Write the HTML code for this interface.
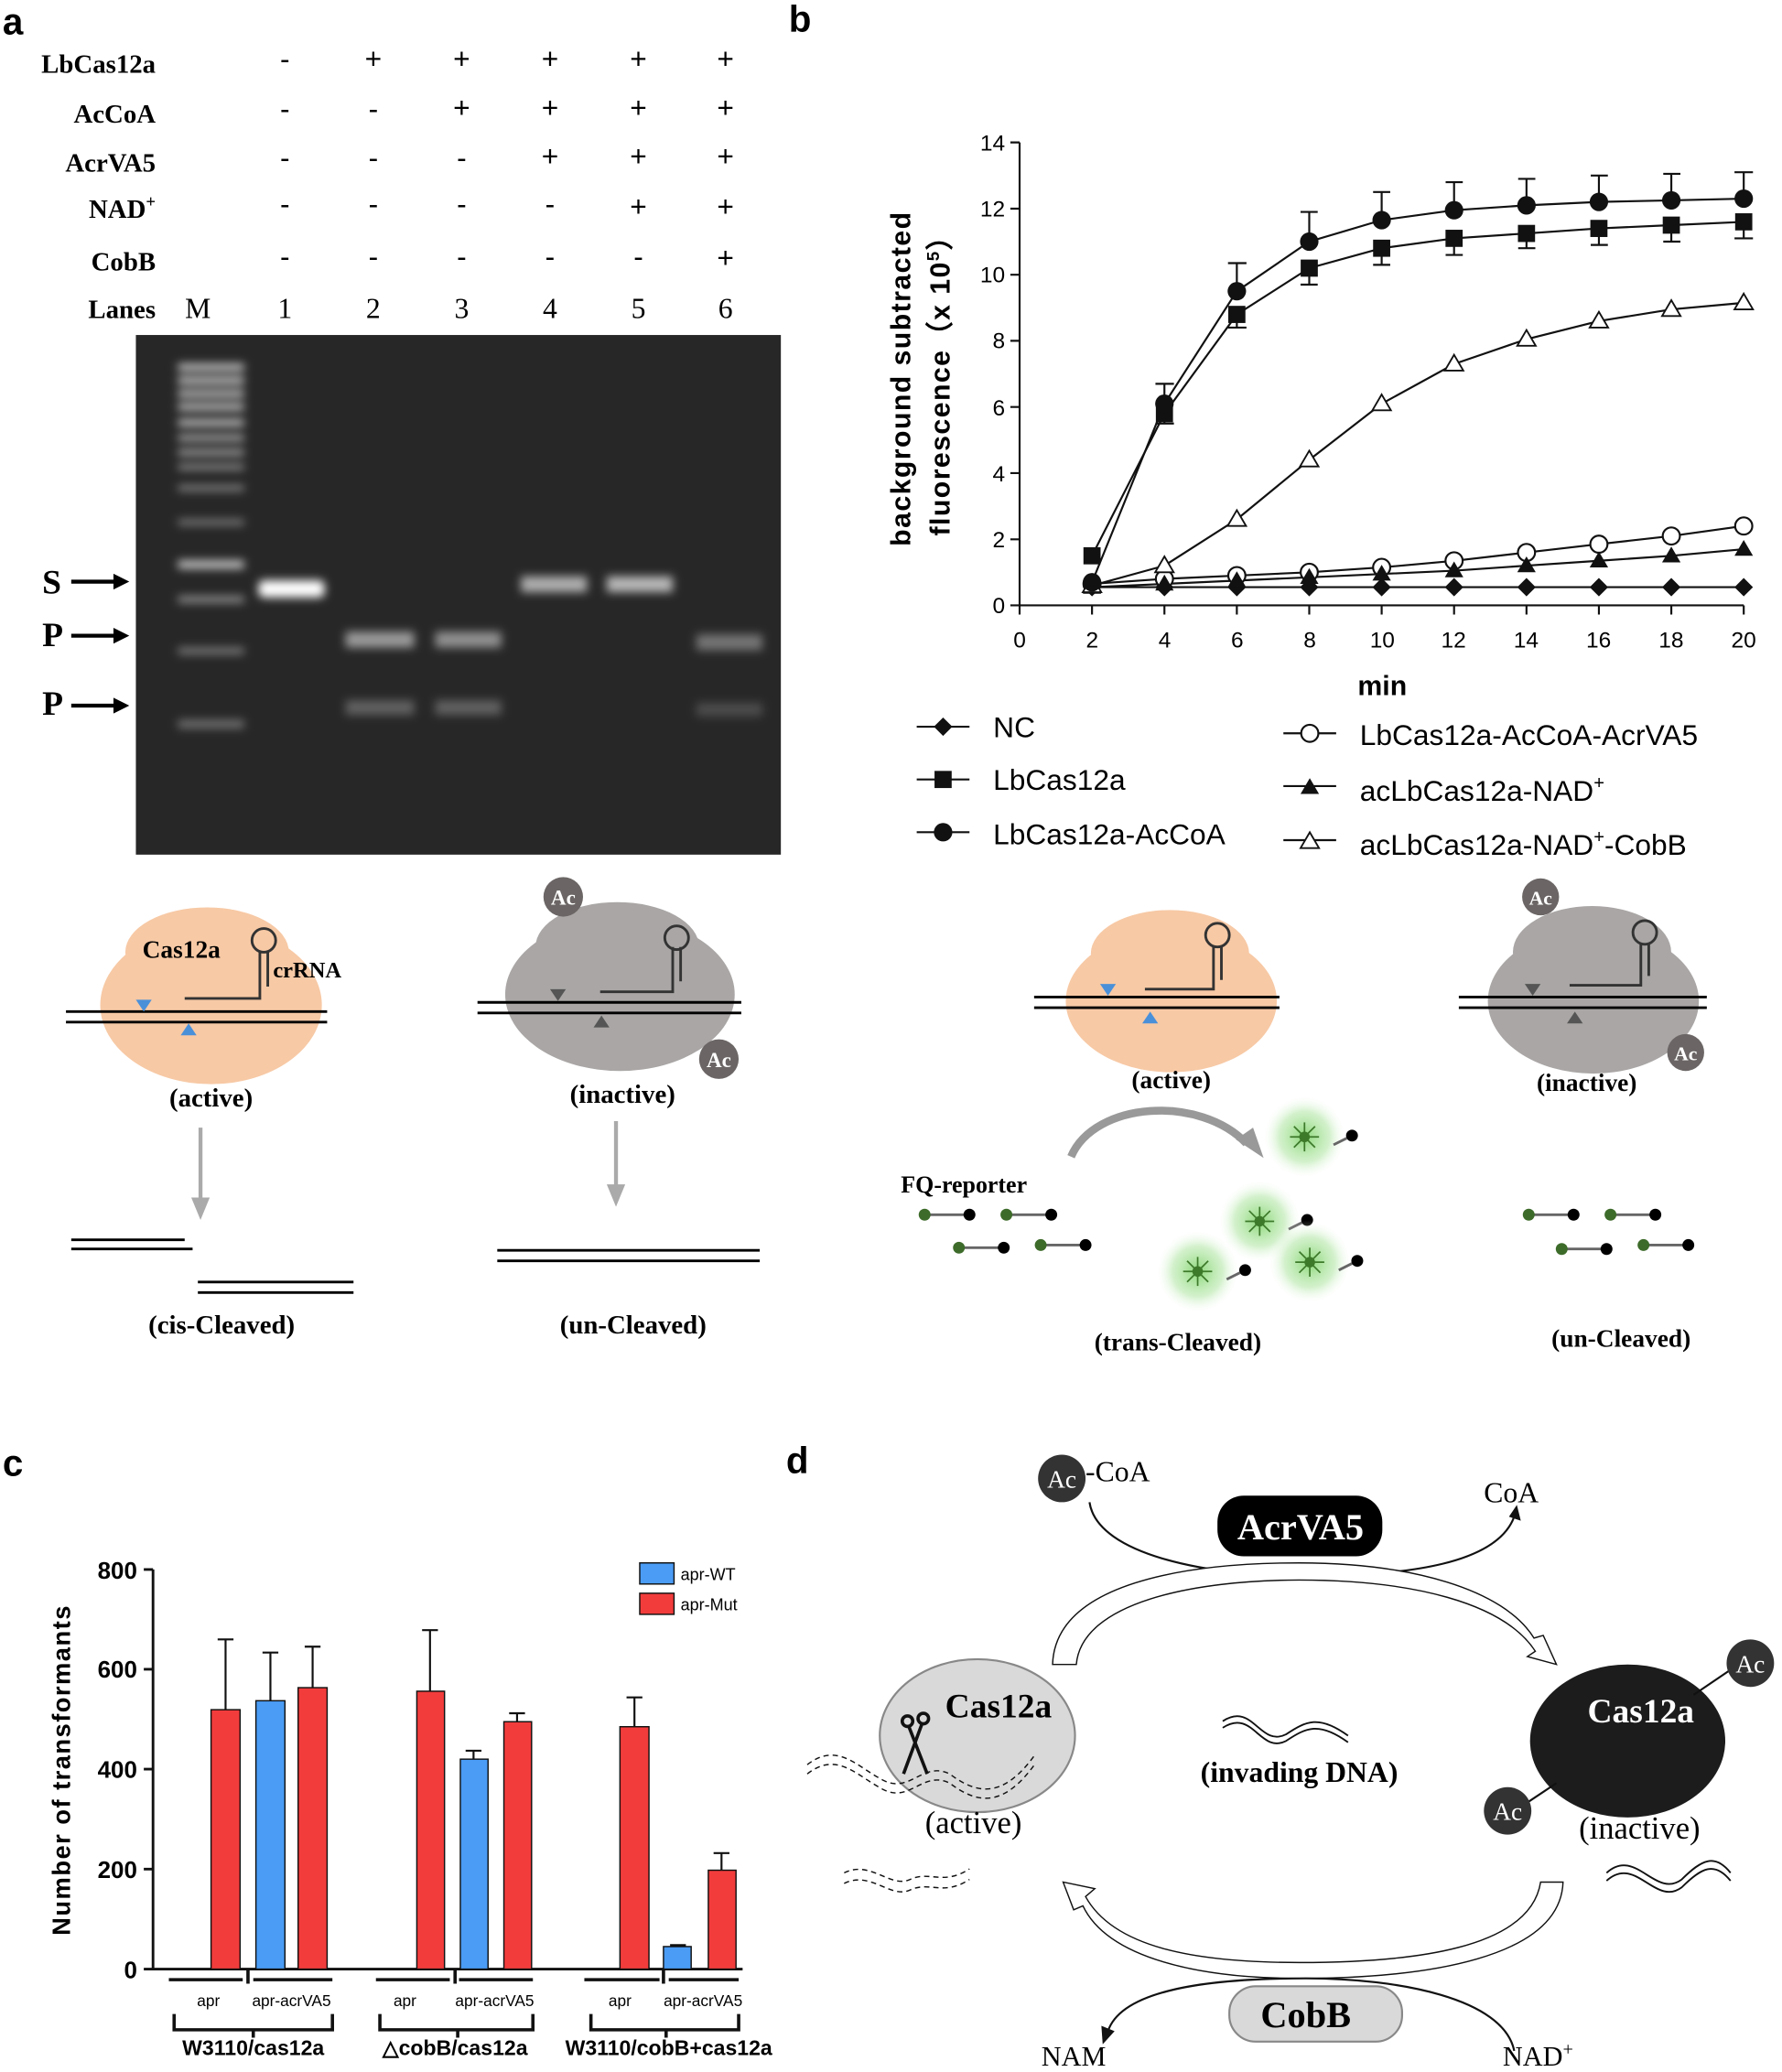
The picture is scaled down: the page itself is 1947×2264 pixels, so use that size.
<!DOCTYPE html>
<html><head><meta charset="utf-8"><style>
html,body{margin:0;padding:0;background:#fff}
svg{display:block}
.s{font-family:"Liberation Serif",serif}
.a{font-family:"Liberation Sans",sans-serif}
</style></head><body>
<svg width="1947" height="2264" viewBox="0 0 1351 1571" xmlns="http://www.w3.org/2000/svg">
<defs>
<radialGradient id="glow"><stop offset="0" stop-color="#7fd36a" stop-opacity="0.9"/><stop offset="0.6" stop-color="#a8e39a" stop-opacity="0.5"/><stop offset="1" stop-color="#fff" stop-opacity="0"/></radialGradient>
<filter id="bl"><feGaussianBlur stdDeviation="3.5"/></filter>
<g id="dm"><path d="M0,-7 L7,0 L0,7 L-7,0Z" fill="#111"/></g>
<g id="sq"><rect x="-6.5" y="-6.5" width="13" height="13" fill="#111"/></g>
<g id="ci"><circle r="7" fill="#111"/></g>
<g id="oc"><circle r="6.5" fill="#fff" stroke="#111" stroke-width="1.5"/></g>
<g id="tr"><path d="M0,-7 L7,5 L-7,5Z" fill="#111"/></g>
<g id="ot"><path d="M0,-7 L7,5 L-7,5Z" fill="#fff" stroke="#111" stroke-width="1.3"/></g>
<g id="rep"><line x1="0" y1="0" x2="32" y2="0" stroke="#666" stroke-width="2"/><circle r="4.5" fill="#3d6b2a"/><circle cx="34" r="4.5" fill="#000"/></g>
<g id="star"><circle r="32" fill="url(#glow)"/><circle r="4" fill="#3d7a2a"/><g stroke="#3d7a2a" stroke-width="1.2"><line x1="-11" y1="0" x2="11" y2="0"/><line x1="0" y1="-11" x2="0" y2="11"/><line x1="-8" y1="-8" x2="8" y2="8"/><line x1="-8" y1="8" x2="8" y2="-8"/></g><line x1="22" y1="6" x2="32" y2="1" stroke="#666" stroke-width="2"/><circle cx="36" cy="-1" r="4.5" fill="#000"/></g>
</defs>

<!-- ===== Panel a ===== -->
<text x="2" y="26" class="a" font-size="28" font-weight="bold">a</text>
<g class="s" font-size="20" font-weight="bold" text-anchor="end">
<text x="118" y="55">LbCas12a</text><text x="118" y="93">AcCoA</text><text x="118" y="130">AcrVA5</text>
<text x="118" y="165">NAD<tspan font-size="13" dy="-8">+</tspan></text><text x="118" y="205">CobB</text><text x="118" y="241">Lanes</text>
</g>
<g class="s" font-size="22" text-anchor="middle">
<text x="150" y="241">M</text><text x="216" y="241">1</text><text x="283" y="241">2</text><text x="350" y="241">3</text><text x="417" y="241">4</text><text x="484" y="241">5</text><text x="550" y="241">6</text>
</g>
<g class="a" font-size="22" text-anchor="middle">
<text x="216" y="52">-</text><text x="283" y="52">+</text><text x="350" y="52">+</text><text x="417" y="52">+</text><text x="484" y="52">+</text><text x="550" y="52">+</text>
<text x="216" y="90">-</text><text x="283" y="90">-</text><text x="350" y="89">+</text><text x="417" y="89">+</text><text x="484" y="89">+</text><text x="550" y="89">+</text>
<text x="216" y="127">-</text><text x="283" y="127">-</text><text x="350" y="127">-</text><text x="417" y="126">+</text><text x="484" y="126">+</text><text x="550" y="126">+</text>
<text x="216" y="162">-</text><text x="283" y="162">-</text><text x="350" y="162">-</text><text x="417" y="162">-</text><text x="484" y="164">+</text><text x="550" y="164">+</text>
<text x="216" y="202">-</text><text x="283" y="202">-</text><text x="350" y="202">-</text><text x="417" y="202">-</text><text x="484" y="202">-</text><text x="550" y="203">+</text>
</g>
<rect x="103" y="254" width="489" height="394" fill="#272727"/>
<g filter="url(#bl)" fill="#e8e8e8">
<rect x="135" y="276" width="50" height="5" opacity="0.9"/><rect x="135" y="286" width="50" height="5" opacity="0.9"/><rect x="135" y="296" width="50" height="5" opacity="0.85"/><rect x="135" y="306" width="50" height="5" opacity="0.85"/><rect x="135" y="318" width="50" height="5" opacity="0.85"/><rect x="135" y="330" width="50" height="4" opacity="0.8"/><rect x="135" y="341" width="50" height="4" opacity="0.75"/><rect x="135" y="352" width="50" height="4" opacity="0.6"/><rect x="135" y="368" width="50" height="4" opacity="0.55"/><rect x="135" y="394" width="50" height="4" opacity="0.5"/><rect x="135" y="425" width="50" height="6" opacity="0.85"/><rect x="135" y="452" width="50" height="5" opacity="0.55"/><rect x="135" y="491" width="50" height="5" opacity="0.45"/><rect x="135" y="546" width="50" height="6" opacity="0.4"/>
<rect x="196" y="440" width="50" height="13" rx="4" fill="#fff"/>
<rect x="262" y="479" width="52" height="12" opacity="0.6"/><rect x="330" y="479" width="50" height="12" opacity="0.55"/>
<rect x="262" y="531" width="52" height="11" opacity="0.3"/><rect x="330" y="531" width="50" height="11" opacity="0.3"/>
<rect x="395" y="437" width="50" height="12" opacity="0.7"/><rect x="460" y="437" width="50" height="12" opacity="0.75"/>
<rect x="528" y="481" width="50" height="12" opacity="0.4"/><rect x="528" y="533" width="50" height="10" opacity="0.2"/>
</g>
<g class="s" font-size="26" font-weight="bold"><text x="32" y="450">S</text><text x="32" y="490">P</text><text x="32" y="542">P</text></g>
<g stroke="#000" stroke-width="3"><line x1="54" y1="441" x2="88" y2="441"/><line x1="54" y1="482" x2="88" y2="482"/><line x1="54" y1="535" x2="88" y2="535"/></g>
<g fill="#000"><path d="M98,441 L86,435 L86,447Z"/><path d="M98,482 L86,476 L86,488Z"/><path d="M98,535 L86,529 L86,541Z"/></g>

<!-- a diagrams -->
<ellipse cx="160" cy="762" rx="84" ry="60" fill="#f7c9a5"/><ellipse cx="157" cy="722" rx="62" ry="34" fill="#f7c9a5"/>
<text x="108" y="726" class="s" font-size="19" font-weight="bold">Cas12a</text>
<path d="M140,757 L197,757 L197,722 M203,722 L203,748" stroke="#333" stroke-width="2" fill="none"/><circle cx="200" cy="713" r="9" fill="none" stroke="#333" stroke-width="2"/>
<text x="207" y="741" class="s" font-size="17" font-weight="bold">crRNA</text>
<line x1="50" y1="767" x2="248" y2="767" stroke="#000" stroke-width="2"/><line x1="50" y1="775" x2="248" y2="775" stroke="#000" stroke-width="2"/>
<path d="M103,758 L115,758 L109,767Z" fill="#4a90d9"/><path d="M137,785 L149,785 L143,776Z" fill="#4a90d9"/>
<text x="160" y="839" class="s" font-size="20" font-weight="bold" text-anchor="middle">(active)</text>
<line x1="152" y1="855" x2="152" y2="910" stroke="#aaa" stroke-width="3"/><path d="M145,908 L159,908 L152,925Z" fill="#aaa"/>
<line x1="54" y1="940" x2="140" y2="940" stroke="#000" stroke-width="2"/><line x1="54" y1="947" x2="146" y2="947" stroke="#000" stroke-width="2"/>
<line x1="150" y1="972" x2="268" y2="972" stroke="#000" stroke-width="2"/><line x1="150" y1="980" x2="268" y2="980" stroke="#000" stroke-width="2"/>
<text x="168" y="1011" class="s" font-size="20" font-weight="bold" text-anchor="middle">(cis-Cleaved)</text>

<ellipse cx="470" cy="754" rx="87" ry="58" fill="#a9a6a5"/><ellipse cx="468" cy="718" rx="62" ry="34" fill="#a9a6a5"/>
<circle cx="427" cy="680" r="15" fill="#6b6665"/><text x="427" y="686" class="s" font-size="16" font-weight="bold" fill="#fff" text-anchor="middle">Ac</text>
<circle cx="545" cy="803" r="15" fill="#6b6665"/><text x="545" y="809" class="s" font-size="16" font-weight="bold" fill="#fff" text-anchor="middle">Ac</text>
<path d="M455,752 L510,752 L510,718 M516,718 L516,744" stroke="#333" stroke-width="2" fill="none"/><circle cx="513" cy="711" r="9" fill="none" stroke="#333" stroke-width="2"/>
<line x1="362" y1="760" x2="562" y2="760" stroke="#000" stroke-width="2"/><line x1="362" y1="768" x2="562" y2="768" stroke="#000" stroke-width="2"/>
<path d="M417,750 L429,750 L423,759Z" fill="#555"/><path d="M450,779 L462,779 L456,770Z" fill="#555"/>
<text x="472" y="836" class="s" font-size="20" font-weight="bold" text-anchor="middle">(inactive)</text>
<line x1="467" y1="850" x2="467" y2="900" stroke="#aaa" stroke-width="3"/><path d="M460,898 L474,898 L467,915Z" fill="#aaa"/>
<line x1="377" y1="948" x2="576" y2="948" stroke="#000" stroke-width="2"/><line x1="377" y1="956" x2="576" y2="956" stroke="#000" stroke-width="2"/>
<text x="480" y="1011" class="s" font-size="20" font-weight="bold" text-anchor="middle">(un-Cleaved)</text>

<!-- ===== Panel b ===== -->
<text x="598" y="24" class="a" font-size="28" font-weight="bold">b</text>
<g stroke="#111" stroke-width="1.5" fill="none">
<line x1="773" y1="108" x2="773" y2="459"/><line x1="773" y1="459" x2="1322" y2="459"/>
<path d="M766,459H773M766,408.9H773M766,358.7H773M766,308.6H773M766,258.4H773M766,208.3H773M766,158.2H773M766,108H773"/>
<path d="M773,459V466M827.9,459V466M882.8,459V466M937.7,459V466M992.6,459V466M1047.5,459V466M1102.4,459V466M1157.3,459V466M1212.2,459V466M1267.1,459V466M1322,459V466"/>
</g>
<g class="a" font-size="17" text-anchor="end">
<text x="762" y="465">0</text><text x="762" y="415">2</text><text x="762" y="365">4</text><text x="762" y="315">6</text><text x="762" y="264">8</text><text x="762" y="214">10</text><text x="762" y="164">12</text><text x="762" y="114">14</text>
</g>
<g class="a" font-size="17" text-anchor="middle">
<text x="773" y="491">0</text><text x="828" y="491">2</text><text x="883" y="491">4</text><text x="938" y="491">6</text><text x="993" y="491">8</text><text x="1048" y="491">10</text><text x="1102" y="491">12</text><text x="1157" y="491">14</text><text x="1212" y="491">16</text><text x="1267" y="491">18</text><text x="1322" y="491">20</text>
</g>
<text x="1048" y="527" class="a" font-size="21" font-weight="bold" text-anchor="middle">min</text>
<g class="a" font-size="21" font-weight="bold" text-anchor="middle" letter-spacing="1">
<text transform="translate(690,287) rotate(-90)">background subtracted</text>
<text transform="translate(720,287) rotate(-90)">fluorescence（x 10<tspan font-size="13" dy="-8">5</tspan><tspan dy="8">）</tspan></text>
</g>
<g stroke="#111" stroke-width="1.5" fill="none">
<path d="M882.8,306V291M876,291H890M937.7,221V199.5M931,199.5H945M992.6,183V160.7M986,160.7H999M1047.5,167V145.6M1041,145.6H1054M1102.4,159V138.1M1096,138.1H1109M1157.3,156V135.6M1151,135.6H1164M1212.2,153V133.1M1206,133.1H1219M1267.1,152V131.8M1261,131.8H1274M1322,151V130.6M1315,130.6H1329"/>
<path d="M882.8,314V321.1M876,321.1H890M937.7,238V248.4M931,248.4H945M992.6,203V215.8M986,215.8H999M1047.5,188V200.8M1041,200.8H1054M1102.4,181V193.3M1096,193.3H1109M1157.3,177V188.2M1151,188.2H1164M1212.2,173V185.7M1206,185.7H1219M1267.1,171V183.2M1261,183.2H1274M1322,168V180.7M1315,180.7H1329"/>
</g>
<g stroke="#111" stroke-width="1.5" fill="none">
<polyline points="827.9,445.2 1322,445.2"/>
<polyline points="827.9,421.4 882.8,313.6 937.7,238.4 992.6,203.3 1047.5,188.2 1102.4,180.7 1157.3,177 1212.2,173.2 1267.1,170.7 1322,168.2"/>
<polyline points="827.9,441.5 882.8,306.1 937.7,220.8 992.6,183.2 1047.5,166.9 1102.4,159.4 1157.3,155.7 1212.2,153.1 1267.1,151.9 1322,150.6"/>
<polyline points="827.9,442.7 882.8,438.9 937.7,436.4 992.6,433.9 1047.5,430.2 1102.4,425.2 1157.3,418.9 1212.2,412.6 1267.1,406.4 1322,398.8"/>
<polyline points="827.9,445.2 882.8,442.7 937.7,440.2 992.6,437.7 1047.5,435.2 1102.4,432.7 1157.3,428.9 1212.2,425.2 1267.1,421.4 1322,416.4"/>
<polyline points="827.9,444 882.8,428.9 937.7,393.8 992.6,348.7 1047.5,306.1 1102.4,276 1157.3,257.2 1212.2,243.4 1267.1,234.6 1322,229.6"/>
</g>
<use href="#dm" x="827.9" y="445.2"/><use href="#dm" x="882.8" y="445.2"/><use href="#dm" x="937.7" y="445.2"/><use href="#dm" x="992.6" y="445.2"/><use href="#dm" x="1047.5" y="445.2"/><use href="#dm" x="1102.4" y="445.2"/><use href="#dm" x="1157.3" y="445.2"/><use href="#dm" x="1212.2" y="445.2"/><use href="#dm" x="1267.1" y="445.2"/><use href="#dm" x="1322" y="445.2"/>
<use href="#oc" x="827.9" y="442.7"/><use href="#oc" x="882.8" y="438.9"/><use href="#oc" x="937.7" y="436.4"/><use href="#oc" x="992.6" y="433.9"/><use href="#oc" x="1047.5" y="430.2"/><use href="#oc" x="1102.4" y="425.2"/><use href="#oc" x="1157.3" y="418.9"/><use href="#oc" x="1212.2" y="412.6"/><use href="#oc" x="1267.1" y="406.4"/><use href="#oc" x="1322" y="398.8"/>
<use href="#tr" x="827.9" y="445.2"/><use href="#tr" x="882.8" y="442.7"/><use href="#tr" x="937.7" y="440.2"/><use href="#tr" x="992.6" y="437.7"/><use href="#tr" x="1047.5" y="435.2"/><use href="#tr" x="1102.4" y="432.7"/><use href="#tr" x="1157.3" y="428.9"/><use href="#tr" x="1212.2" y="425.2"/><use href="#tr" x="1267.1" y="421.4"/><use href="#tr" x="1322" y="416.4"/>
<use href="#ot" x="827.9" y="444"/><use href="#ot" x="882.8" y="428.9"/><use href="#ot" x="937.7" y="393.8"/><use href="#ot" x="992.6" y="348.7"/><use href="#ot" x="1047.5" y="306.1"/><use href="#ot" x="1102.4" y="276"/><use href="#ot" x="1157.3" y="257.2"/><use href="#ot" x="1212.2" y="243.4"/><use href="#ot" x="1267.1" y="234.6"/><use href="#ot" x="1322" y="229.6"/>
<use href="#sq" x="827.9" y="421.4"/><use href="#sq" x="882.8" y="313.6"/><use href="#sq" x="937.7" y="238.4"/><use href="#sq" x="992.6" y="203.3"/><use href="#sq" x="1047.5" y="188.2"/><use href="#sq" x="1102.4" y="180.7"/><use href="#sq" x="1157.3" y="177"/><use href="#sq" x="1212.2" y="173.2"/><use href="#sq" x="1267.1" y="170.7"/><use href="#sq" x="1322" y="168.2"/>
<use href="#ci" x="827.9" y="441.5"/><use href="#ci" x="882.8" y="306.1"/><use href="#ci" x="937.7" y="220.8"/><use href="#ci" x="992.6" y="183.2"/><use href="#ci" x="1047.5" y="166.9"/><use href="#ci" x="1102.4" y="159.4"/><use href="#ci" x="1157.3" y="155.7"/><use href="#ci" x="1212.2" y="153.1"/><use href="#ci" x="1267.1" y="151.9"/><use href="#ci" x="1322" y="150.6"/>
<g stroke="#111" stroke-width="1.5"><line x1="695" y1="551" x2="735" y2="551"/><line x1="695" y1="591" x2="735" y2="591"/><line x1="695" y1="631" x2="735" y2="631"/><line x1="973" y1="556" x2="1013" y2="556"/><line x1="973" y1="596" x2="1013" y2="596"/><line x1="973" y1="637" x2="1013" y2="637"/></g>
<use href="#dm" x="715" y="551"/><use href="#sq" x="715" y="591"/><use href="#ci" x="715" y="631"/><use href="#oc" x="993" y="556"/><use href="#tr" x="993" y="597"/><use href="#ot" x="993" y="638"/>
<g class="a" font-size="22">
<text x="753" y="559">NC</text><text x="753" y="599">LbCas12a</text><text x="753" y="640">LbCas12a-AcCoA</text>
<text x="1031" y="565">LbCas12a-AcCoA-AcrVA5</text><text x="1031" y="607">acLbCas12a-NAD<tspan font-size="14" dy="-9">+</tspan></text><text x="1031" y="648">acLbCas12a-NAD<tspan font-size="14" dy="-9">+</tspan><tspan dy="9">-CobB</tspan></text>
</g>

<!-- b diagrams -->
<ellipse cx="888" cy="759" rx="80" ry="54" fill="#f7c9a5"/><ellipse cx="887" cy="723" rx="60" ry="33" fill="#f7c9a5"/>
<path d="M868,750 L920,750 L920,717 M926,717 L926,743" stroke="#333" stroke-width="2" fill="none"/><circle cx="923" cy="709" r="9" fill="none" stroke="#333" stroke-width="2"/>
<line x1="784" y1="756" x2="970" y2="756" stroke="#000" stroke-width="2"/><line x1="784" y1="764" x2="970" y2="764" stroke="#000" stroke-width="2"/>
<path d="M834,746 L846,746 L840,755Z" fill="#4a90d9"/><path d="M866,776 L878,776 L872,767Z" fill="#4a90d9"/>
<text x="888" y="825" class="s" font-size="19" font-weight="bold" text-anchor="middle">(active)</text>
<ellipse cx="1208" cy="759" rx="80" ry="55" fill="#a9a6a5"/><ellipse cx="1207" cy="722" rx="60" ry="35" fill="#a9a6a5"/>
<circle cx="1168" cy="680" r="14" fill="#6b6665"/><text x="1168" y="686" class="s" font-size="15" font-weight="bold" fill="#fff" text-anchor="middle">Ac</text>
<circle cx="1278" cy="798" r="14" fill="#6b6665"/><text x="1278" y="804" class="s" font-size="15" font-weight="bold" fill="#fff" text-anchor="middle">Ac</text>
<path d="M1190,747 L1244,747 L1244,715 M1250,715 L1250,740" stroke="#333" stroke-width="2" fill="none"/><circle cx="1247" cy="707" r="9" fill="none" stroke="#333" stroke-width="2"/>
<line x1="1106" y1="756" x2="1294" y2="756" stroke="#000" stroke-width="2"/><line x1="1106" y1="764" x2="1294" y2="764" stroke="#000" stroke-width="2"/>
<path d="M1156,746 L1168,746 L1162,755Z" fill="#555"/><path d="M1188,776 L1200,776 L1194,767Z" fill="#555"/>
<text x="1203" y="827" class="s" font-size="19" font-weight="bold" text-anchor="middle">(inactive)</text>
<path d="M812,877 C830,835 910,830 945,867" stroke="#999" stroke-width="6" fill="none"/><path d="M937,864 L958,878 L950,855Z" fill="#999"/>
<text x="683" y="904" class="s" font-size="18" font-weight="bold">FQ-reporter</text>
<use href="#rep" x="701" y="921"/><use href="#rep" x="763" y="921"/><use href="#rep" x="727" y="946"/><use href="#rep" x="789" y="944"/>
<use href="#star" x="989" y="862"/><use href="#star" x="955" y="926"/><use href="#star" x="908" y="964"/><use href="#star" x="993" y="957"/>
<text x="893" y="1024" class="s" font-size="19" font-weight="bold" text-anchor="middle">(trans-Cleaved)</text>
<use href="#rep" x="1159" y="921"/><use href="#rep" x="1221" y="921"/><use href="#rep" x="1184" y="947"/><use href="#rep" x="1246" y="944"/>
<text x="1229" y="1021" class="s" font-size="19" font-weight="bold" text-anchor="middle">(un-Cleaved)</text>

<!-- ===== Panel c ===== -->
<text x="2" y="1119" class="a" font-size="28" font-weight="bold">c</text>
<g stroke="#111" stroke-width="2" fill="none">
<line x1="116" y1="1190" x2="116" y2="1494"/><line x1="116" y1="1493" x2="563" y2="1493"/>
<path d="M109,1493H116M109,1417.2H116M109,1341.4H116M109,1265.6H116M109,1190H116"/>
</g>
<g class="a" font-size="18" font-weight="bold" text-anchor="end">
<text x="104" y="1500">0</text><text x="104" y="1424">200</text><text x="104" y="1348">400</text><text x="104" y="1272">600</text><text x="104" y="1197">800</text>
</g>
<text transform="translate(53,1342) rotate(-90)" class="a" font-size="19" font-weight="bold" text-anchor="middle" letter-spacing="1">Number of transformants</text>
<g stroke="#111" stroke-width="1.5">
<path d="M171,1296V1243M165,1243H177M205,1290V1253M199,1253H211M237,1280V1248.5M231,1248.5H243M326,1282V1236M320,1236H332M359,1334V1327.4M353,1327.4H365M392,1305V1299M386,1299H398M481,1309V1287M475,1287H487M514,1476V1474.8M508,1474.8H520M547,1418V1405M541,1405H553"/>
</g>
<g stroke="#111" stroke-width="1">
<rect x="160" y="1296.3" width="22" height="196.7" fill="#f23c3c"/><rect x="194" y="1289.5" width="22" height="203.5" fill="#4a9cf5"/><rect x="226" y="1279.6" width="22" height="213.4" fill="#f23c3c"/>
<rect x="316" y="1282.3" width="21" height="210.7" fill="#f23c3c"/><rect x="349" y="1333.8" width="21" height="159.2" fill="#4a9cf5"/><rect x="382" y="1305.4" width="21" height="187.6" fill="#f23c3c"/>
<rect x="470" y="1309.2" width="22" height="183.8" fill="#f23c3c"/><rect x="503" y="1475.9" width="21" height="17.1" fill="#4a9cf5"/><rect x="537" y="1418" width="21" height="75" fill="#f23c3c"/>
<rect x="485" y="1185" width="26" height="16" fill="#4a9cf5"/><rect x="485" y="1208" width="26" height="16" fill="#f23c3c"/>
</g>
<g class="a" font-size="12.5"><text x="516" y="1198">apr-WT</text><text x="516" y="1221">apr-Mut</text></g>
<g stroke="#111" stroke-width="2.5" fill="none">
<path d="M128,1501H184M192,1501H252M188,1493V1504M285,1501H341M348,1501H404M345,1493V1504M443,1501H500M507,1501H560M503,1493V1504"/>
<path d="M132,1527V1539H252V1527M192,1539V1545M288,1527V1539H404V1527M347,1539V1545M448,1527V1539H560V1527M505,1539V1545"/>
</g>
<g class="a" font-size="12" text-anchor="middle"><text x="158" y="1521">apr</text><text x="221" y="1521">apr-acrVA5</text><text x="307" y="1521">apr</text><text x="375" y="1521">apr-acrVA5</text><text x="470" y="1521">apr</text><text x="533" y="1521">apr-acrVA5</text></g>
<g class="a" font-size="16" font-weight="bold" text-anchor="middle"><text x="192" y="1558">W3110/cas12a</text><text x="345" y="1558">△cobB/cas12a</text><text x="507" y="1558">W3110/cobB+cas12a</text></g>

<!-- ===== Panel d ===== -->
<text x="596" y="1117" class="a" font-size="28" font-weight="bold">d</text>
<circle cx="805" cy="1121" r="18" fill="#333"/><text x="805" y="1128" class="s" font-size="19" fill="#fff" text-anchor="middle">Ac</text>
<text x="823" y="1123" class="s" font-size="22">-CoA</text>
<text x="1125" y="1139" class="s" font-size="22">CoA</text>
<path d="M826,1139 C832,1180 920,1195 988,1195 C1070,1195 1135,1185 1148,1150" stroke="#111" stroke-width="1.5" fill="none"/><path d="M1150,1141 L1153,1153 L1144,1150Z" fill="#111"/>
<rect x="923" y="1134" width="125" height="46" rx="20" fill="#000"/>
<text x="986" y="1167" class="s" font-size="28" font-weight="bold" fill="#fff" text-anchor="middle">AcrVA5</text>
<path d="M798,1262 C800,1200 900,1185 985,1185 C1070,1185 1140,1205 1163,1242 L1170,1240 L1180,1262 L1158,1256 L1164,1252 C1140,1215 1070,1198 985,1198 C905,1198 820,1215 816,1262Z" fill="#fff" stroke="#111" stroke-width="1"/>
<path d="M1185,1427 C1183,1485 1080,1500 985,1500 C910,1500 840,1485 821,1445 L814,1448 L806,1427 L830,1432 L823,1438 C845,1478 910,1488 985,1488 C1070,1488 1160,1478 1168,1427Z" fill="#fff" stroke="#111" stroke-width="1"/>
<ellipse cx="741" cy="1316" rx="74" ry="58" fill="#d9d9d9" stroke="#888" stroke-width="1.5"/>
<text x="757" y="1302" class="s" font-size="26" font-weight="bold" text-anchor="middle">Cas12a</text>
<g stroke="#111" stroke-width="2.5" fill="none"><circle cx="688" cy="1305" r="4"/><circle cx="700" cy="1303" r="4"/><line x1="689" y1="1309" x2="703" y2="1345"/><line x1="699" y1="1307" x2="685" y2="1345"/></g>
<path d="M612,1338 C635,1320 650,1340 670,1350 C690,1360 700,1335 720,1345 C740,1360 760,1365 785,1330" stroke="#111" stroke-width="1" fill="none" stroke-dasharray="4,3"/>
<path d="M612,1345 C635,1327 650,1347 670,1357 C690,1367 700,1342 720,1352 C740,1367 760,1372 785,1337" stroke="#111" stroke-width="1" fill="none" stroke-dasharray="4,3"/>
<text x="738" y="1390" class="s" font-size="24" text-anchor="middle">(active)</text>
<path d="M640,1420 C660,1410 675,1432 690,1425 C705,1418 715,1430 735,1417 M640,1428 C660,1418 675,1440 690,1433 C705,1426 715,1438 735,1425" stroke="#111" stroke-width="1" fill="none" stroke-dasharray="4,3"/>
<path d="M927,1305 C950,1290 955,1325 975,1315 C990,1305 1000,1300 1022,1316 M927,1310 C950,1295 955,1330 975,1320 C990,1310 1000,1305 1022,1321" stroke="#111" stroke-width="1.3" fill="none"/>
<text x="985" y="1351" class="s" font-size="22" font-weight="bold" text-anchor="middle">(invading DNA)</text>
<ellipse cx="1234" cy="1320" rx="74" ry="58" fill="#1c1c1c"/>
<text x="1244" y="1306" class="s" font-size="26" font-weight="bold" fill="#fff" text-anchor="middle">Cas12a</text>
<line x1="1284" y1="1285" x2="1312" y2="1266" stroke="#111" stroke-width="1.5"/><line x1="1180" y1="1352" x2="1153" y2="1370" stroke="#111" stroke-width="1.5"/>
<circle cx="1327" cy="1261" r="18" fill="#333"/><text x="1327" y="1268" class="s" font-size="19" fill="#fff" text-anchor="middle">Ac</text>
<circle cx="1143" cy="1373" r="18" fill="#333"/><text x="1143" y="1380" class="s" font-size="19" fill="#fff" text-anchor="middle">Ac</text>
<text x="1243" y="1394" class="s" font-size="24" text-anchor="middle">(inactive)</text>
<path d="M1218,1420 C1240,1400 1255,1440 1275,1425 C1290,1410 1300,1405 1312,1420 M1218,1426 C1240,1406 1255,1446 1275,1431 C1290,1416 1300,1411 1312,1426" stroke="#111" stroke-width="1.3" fill="none"/>
<path d="M1148,1555 C1140,1515 1060,1500 990,1500 C910,1500 850,1510 840,1540" stroke="#111" stroke-width="1.5" fill="none"/><path d="M836,1550 L835,1536 L845,1540Z" fill="#111"/>
<rect x="932" y="1506" width="131" height="42" rx="20" fill="#d9d9d9" stroke="#888" stroke-width="1.5"/>
<text x="990" y="1537" class="s" font-size="28" font-weight="bold" text-anchor="middle">CobB</text>
<text x="814" y="1566" class="s" font-size="21" text-anchor="middle">NAM</text>
<text x="1166" y="1566" class="s" font-size="21" text-anchor="middle">NAD<tspan font-size="14" dy="-8">+</tspan></text>
</svg>
</body></html>
